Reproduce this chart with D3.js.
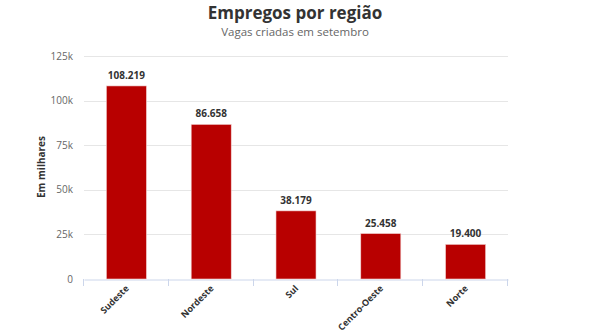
<!DOCTYPE html>
<html><head><meta charset="utf-8">
<script src="https://cdn.jsdelivr.net/npm/d3@7"></script>
<style>body{margin:0;background:#fff;font-family:"Open Sans",sans-serif;}</style>
</head><body>
<svg id="c" width="590" height="330"></svg>
<script>
const categories = ["Sudeste","Nordeste","Sul","Centro-Oeste","Norte"];
const values = [108219, 86658, 38179, 25458, 19400];
const valueLabels = ["108.219","86.658","38.179","25.458","19.400"];
const yTicks = [0, 25000, 50000, 75000, 100000, 125000];
const yTickLabels = ["0","25k","50k","75k","100k","125k"];

const svg = d3.select("#c");
const m = {l:84, r:508, t:56, b:279};
const x = d3.scaleBand().domain(categories).range([m.l, m.r]).paddingInner(0.528).paddingOuter(0.264);
const y = d3.scaleLinear().domain([0,125000]).range([m.b, m.t]);

svg.append("text").attr("x",295).attr("y",19).attr("text-anchor","middle")
  .attr("font-size",17).attr("font-weight","bold").attr("fill","#333").text("Empregos por região");
svg.append("text").attr("x",295).attr("y",36).attr("text-anchor","middle")
  .attr("font-size",11.5).attr("fill","#666").text("Vagas criadas em setembro");

// grid
svg.append("g").selectAll("line").data(yTicks.slice(1)).join("line")
  .attr("x1",m.l).attr("x2",m.r).attr("y1",d=>Math.round(y(d))+0.5).attr("y2",d=>Math.round(y(d))+0.5)
  .attr("stroke","#e6e6e6").attr("stroke-width",1);

// y labels
svg.append("g").selectAll("text").data(yTicks).join("text")
  .attr("x",73).attr("y",d=>y(d)+3.5).attr("text-anchor","end")
  .attr("font-size",10).attr("fill","#666").text((d,i)=>yTickLabels[i]);

svg.append("text").attr("transform","translate(45,167) rotate(-90)").attr("text-anchor","middle")
  .attr("font-size",10).attr("font-weight","bold").attr("fill","#333").text("Em milhares");

// x axis
const xa = svg.append("g").attr("transform",`translate(0,${m.b+0.5})`)
  .call(d3.axisBottom(x).tickSize(0).tickFormat(""));
xa.select(".domain").attr("stroke","#ccd6eb");
const edges = categories.map(c=>x(c)-x.step()*x.paddingInner()/2).concat([m.r]);
edges[0]=m.l;
svg.append("g").selectAll("line").data(edges).join("line")
  .attr("x1",d=>Math.round(d)-0.5).attr("x2",d=>Math.round(d)-0.5)
  .attr("y1",m.b).attr("y2",m.b+7).attr("stroke","#ccd6eb");

svg.append("g").selectAll("text").data(categories).join("text")
  .attr("transform",d=>`translate(${x(d)+x.bandwidth()/2+3},${m.b+10}) rotate(-45)`)
  .attr("text-anchor","end").attr("font-size",9).attr("font-weight","bold").attr("fill","#333").text(d=>d);

// bars
svg.append("g").selectAll("rect").data(values).join("rect")
  .attr("x",(d,i)=>x(categories[i])).attr("width",x.bandwidth())
  .attr("y",d=>y(d)).attr("height",d=>m.b-y(d))
  .attr("fill","#b80000").attr("stroke","#f2d0d0").attr("stroke-width",0.6);

svg.append("g").selectAll("text").data(values).join("text")
  .attr("x",(d,i)=>x(categories[i])+x.bandwidth()/2).attr("y",d=>y(d)-7)
  .attr("text-anchor","middle").attr("font-size",10).attr("font-weight","bold").attr("fill","#333")
  .text((d,i)=>valueLabels[i]);
</script>
</body></html>
